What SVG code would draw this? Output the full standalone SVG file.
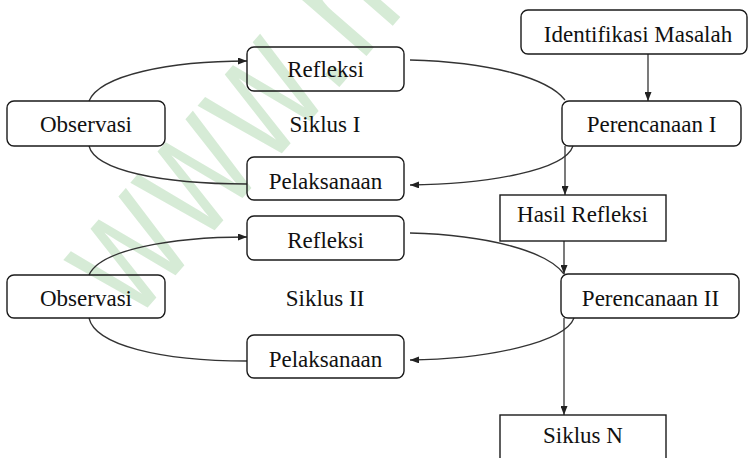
<svg xmlns="http://www.w3.org/2000/svg" width="748" height="458" viewBox="0 0 748 458">
<style>
.box{fill:none;stroke:#1a1a1a;stroke-width:1.4}
.lbl{font-family:"Liberation Serif","Times New Roman",serif;font-size:23px;fill:#111;text-anchor:middle}
.con{fill:none;stroke:#333;stroke-width:1.3}
.wm{font-family:"Liberation Sans",Arial,sans-serif;font-size:138px;fill:#d6ebd6;letter-spacing:8px}
</style>
<defs>
<marker id="ah" markerUnits="userSpaceOnUse" markerWidth="9" markerHeight="7" refX="9" refY="3.5" orient="auto">
<path d="M0,0 L9,3.5 L0,7 z" fill="#222"/>
</marker>
</defs>
<rect width="748" height="458" fill="#fff"/>
<text class="wm" transform="translate(135,322) rotate(-49) scale(0.95,1.3)">www.m</text>
<g id="connectors">
<path class="con" d="M648 54 L648 101" marker-end="url(#ah)"/>
<path class="con" d="M565 146 L565 195" marker-end="url(#ah)"/>
<path class="con" d="M564 241 L564 274" marker-end="url(#ah)"/>
<path class="con" d="M564 318 L564 415" marker-end="url(#ah)"/>
<path class="con" d="M410 60 C490 62,548 78,565 100"/>
<path class="con" d="M573 146 C565 170,490 184,410 185" marker-end="url(#ah)"/>
<path class="con" d="M247 184 C160 184,95 170,89 146"/>
<path class="con" d="M89 101 C100 75,170 61,247 61" marker-end="url(#ah)"/>
<path class="con" d="M410 233 C490 235,548 252,564 274"/>
<path class="con" d="M574 318 C565 342,490 359,410 360" marker-end="url(#ah)"/>
<path class="con" d="M247 361 C160 361,95 345,89 318"/>
<path class="con" d="M89 275 C100 250,170 237,247 237" marker-end="url(#ah)"/>
</g>
<g id="identifikasi"><rect class="box" x="521" y="10" width="226" height="44" rx="7"/><text class="lbl" x="638" y="42">Identifikasi Masalah</text></g>
<g id="refleksi1"><rect class="box" x="247" y="47" width="157" height="44" rx="7"/><text class="lbl" x="325.5" y="77">Refleksi</text></g>
<g id="observasi1"><rect class="box" x="7" y="101" width="158" height="45" rx="7"/><text class="lbl" x="86" y="132">Observasi</text></g>
<g id="siklus1"><text class="lbl" x="325" y="132">Siklus I</text></g>
<g id="perencanaan1"><rect class="box" x="562" y="101" width="179" height="45" rx="7"/><text class="lbl" x="651.5" y="132">Perencanaan I</text></g>
<g id="pelaksanaan1"><rect class="box" x="247" y="157" width="157" height="43" rx="7"/><text class="lbl" x="325.5" y="189">Pelaksanaan</text></g>
<g id="hasil"><rect class="box" x="500" y="195" width="166" height="46"/><text class="lbl" x="582.5" y="222">Hasil Refleksi</text></g>
<g id="refleksi2"><rect class="box" x="247" y="216" width="157" height="44" rx="7"/><text class="lbl" x="325.5" y="248">Refleksi</text></g>
<g id="observasi2"><rect class="box" x="7" y="275" width="158" height="43" rx="7"/><text class="lbl" x="86" y="306">Observasi</text></g>
<g id="siklus2"><text class="lbl" x="325" y="306">Siklus II</text></g>
<g id="perencanaan2"><rect class="box" x="561" y="274" width="178" height="44" rx="7"/><text class="lbl" x="650.5" y="306">Perencanaan II</text></g>
<g id="pelaksanaan2"><rect class="box" x="247" y="335" width="157" height="43" rx="7"/><text class="lbl" x="325.5" y="367">Pelaksanaan</text></g>
<g id="siklusN"><rect class="box" x="500" y="415" width="166" height="50"/><text class="lbl" x="583" y="443">Siklus N</text></g>
</svg>
